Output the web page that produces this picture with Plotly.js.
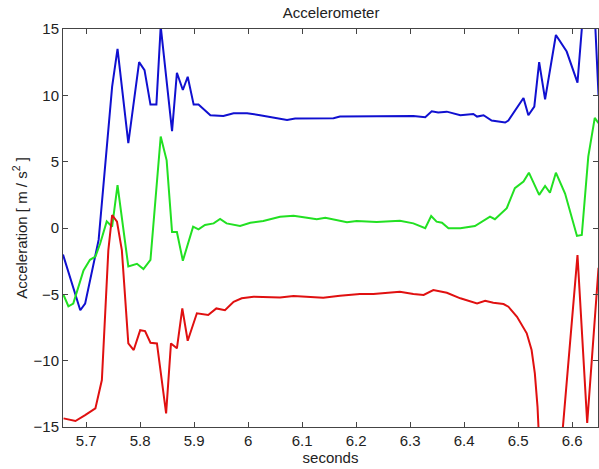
<!DOCTYPE html>
<html>
<head>
<meta charset="utf-8">
<script src="https://cdn.plot.ly/plotly-3.0.1.min.js"></script>
<style>html,body{margin:0;padding:0;background:#fff;}#chart{width:599px;height:469px;}</style>
</head>
<body>
<div id="chart"></div>
<script>
// X tick labels
const xTicks = [5.7, 5.8, 5.9, 6.0, 6.1, 6.2, 6.3, 6.4, 6.5, 6.6];
const xTickText = ['5.7', '5.8', '5.9', '6', '6.1', '6.2', '6.3', '6.4', '6.5', '6.6'];
const yTicks = [-15, -10, -5, 0, 5, 10, 15];

// Blue series
const blueX = [5.657, 5.689, 5.698, 5.723, 5.748, 5.758, 5.778, 5.798, 5.808, 5.819, 5.830, 5.838, 5.859, 5.868, 5.879, 5.888, 5.899, 5.908, 5.930, 5.954, 5.973, 5.998, 6.022, 6.047, 6.072, 6.087, 6.158, 6.170, 6.257, 6.306, 6.328, 6.340, 6.352, 6.368, 6.393, 6.417, 6.424, 6.436, 6.451, 6.476, 6.482, 6.510, 6.519, 6.530, 6.539, 6.550, 6.570, 6.584, 6.590, 6.610, 6.618, 6.628, 6.643, 6.649];
const blueY = [-2.0, -6.2, -5.7, -0.9, 10.65, 13.5, 6.4, 12.5, 11.9, 9.3, 9.3, 15.2, 7.3, 11.7, 10.4, 11.4, 9.3, 9.3, 8.5, 8.45, 8.65, 8.65, 8.5, 8.35, 8.15, 8.25, 8.27, 8.4, 8.45, 8.45, 8.35, 8.8, 8.7, 8.77, 8.5, 8.6, 8.4, 8.5, 8.1, 7.95, 8.1, 9.8, 8.5, 9.15, 12.5, 9.7, 14.55, 13.7, 13.3, 10.96, 15.0, 17.5, 15.2, 10.0];

// Green series
const greenX = [5.658, 5.667, 5.676, 5.695, 5.707, 5.717, 5.726, 5.738, 5.748, 5.758, 5.778, 5.794, 5.806, 5.819, 5.838, 5.849, 5.859, 5.868, 5.879, 5.898, 5.908, 5.920, 5.936, 5.948, 5.960, 5.985, 6.004, 6.028, 6.059, 6.084, 6.109, 6.127, 6.143, 6.164, 6.183, 6.201, 6.238, 6.281, 6.306, 6.328, 6.339, 6.349, 6.359, 6.371, 6.393, 6.420, 6.448, 6.457, 6.479, 6.494, 6.510, 6.520, 6.539, 6.550, 6.559, 6.570, 6.587, 6.609, 6.618, 6.630, 6.642, 6.649];
const greenY = [-5.05, -5.9, -5.7, -3.2, -2.4, -2.16, -1.15, 0.5, 0.1, 3.24, -2.9, -2.7, -3.1, -2.4, 6.9, 5.1, -0.3, -0.3, -2.47, 0.1, -0.1, 0.23, 0.35, 0.68, 0.35, 0.15, 0.4, 0.53, 0.85, 0.93, 0.78, 0.66, 0.78, 0.6, 0.43, 0.53, 0.45, 0.55, 0.35, -0.02, 0.9, 0.48, 0.4, -0.02, -0.02, 0.15, 0.85, 0.66, 1.49, 3.0, 3.5, 4.17, 2.5, 3.17, 2.66, 4.17, 2.6, -0.6, -0.53, 5.38, 8.3, 7.9];

// Red series
const redX = [5.658, 5.680, 5.698, 5.717, 5.729, 5.741, 5.748, 5.757, 5.766, 5.778, 5.788, 5.800, 5.809, 5.819, 5.831, 5.848, 5.857, 5.868, 5.878, 5.888, 5.905, 5.926, 5.941, 5.957, 5.973, 5.988, 6.010, 6.035, 6.059, 6.084, 6.115, 6.139, 6.170, 6.207, 6.232, 6.257, 6.281, 6.306, 6.325, 6.343, 6.368, 6.393, 6.424, 6.439, 6.454, 6.473, 6.482, 6.498, 6.516, 6.525, 6.531, 6.536, 6.540, 6.560, 6.583, 6.610, 6.628, 6.649];
const redY = [-14.35, -14.55, -14.1, -13.6, -11.46, -1.66, 0.98, 0.48, -1.66, -8.7, -9.2, -7.7, -7.77, -8.65, -8.7, -13.97, -8.7, -9.07, -6.06, -8.5, -6.43, -6.56, -6.06, -6.2, -5.56, -5.3, -5.18, -5.18, -5.23, -5.13, -5.18, -5.25, -5.1, -4.98, -4.98, -4.88, -4.8, -4.98, -5.05, -4.68, -4.88, -5.3, -5.68, -5.48, -5.63, -5.73, -5.93, -6.69, -7.94, -9.2, -10.96, -13.5, -17, -22, -15, -2.04, -14.7, -3.0];

const font = 'Liberation Sans, Arial, Helvetica, sans-serif';
const traces = [
  {x: blueX, y: blueY, type: 'scatter', mode: 'lines', line: {color: '#1010d0', width: 2}, hoverinfo: 'none'},
  {x: greenX, y: greenY, type: 'scatter', mode: 'lines', line: {color: '#22e022', width: 2}, hoverinfo: 'none'},
  {x: redX, y: redY, type: 'scatter', mode: 'lines', line: {color: '#e01010', width: 2}, hoverinfo: 'none'}
];

const axisCommon = {
  showgrid: false, zeroline: false, showline: true, linecolor: '#444', linewidth: 1,
  ticks: 'inside', ticklen: 5, tickcolor: '#444', mirror: 'ticks',
  tickfont: {family: font, size: 15, color: '#222'}
};

const layout = {
  width: 599, height: 469,
  margin: {l: 63, r: 1, t: 29, b: 42},
  paper_bgcolor: '#fff', plot_bgcolor: '#fff',
  showlegend: false,
  title: {text: 'Accelerometer', font: {family: font, size: 15, color: '#222'}, x: 0.5527, xref: 'container', xanchor: 'center', y: 0.972, yref: 'container', yanchor: 'middle'},
  xaxis: Object.assign({}, axisCommon, {
    range: [5.657, 6.648], tickvals: xTicks, ticktext: xTickText,
    title: {text: 'seconds', font: {family: font, size: 15, color: '#222'}, standoff: 2}
  }),
  yaxis: Object.assign({}, axisCommon, {
    range: [-15, 15], tickvals: yTicks,
    title: {text: 'Acceleration [ m / s<sup>2</sup> ]', font: {family: font, size: 15, color: '#222'}, standoff: 2}
  })
};

Plotly.newPlot('chart', traces, layout, {displayModeBar: false, staticPlot: true});
</script>
</body>
</html>
